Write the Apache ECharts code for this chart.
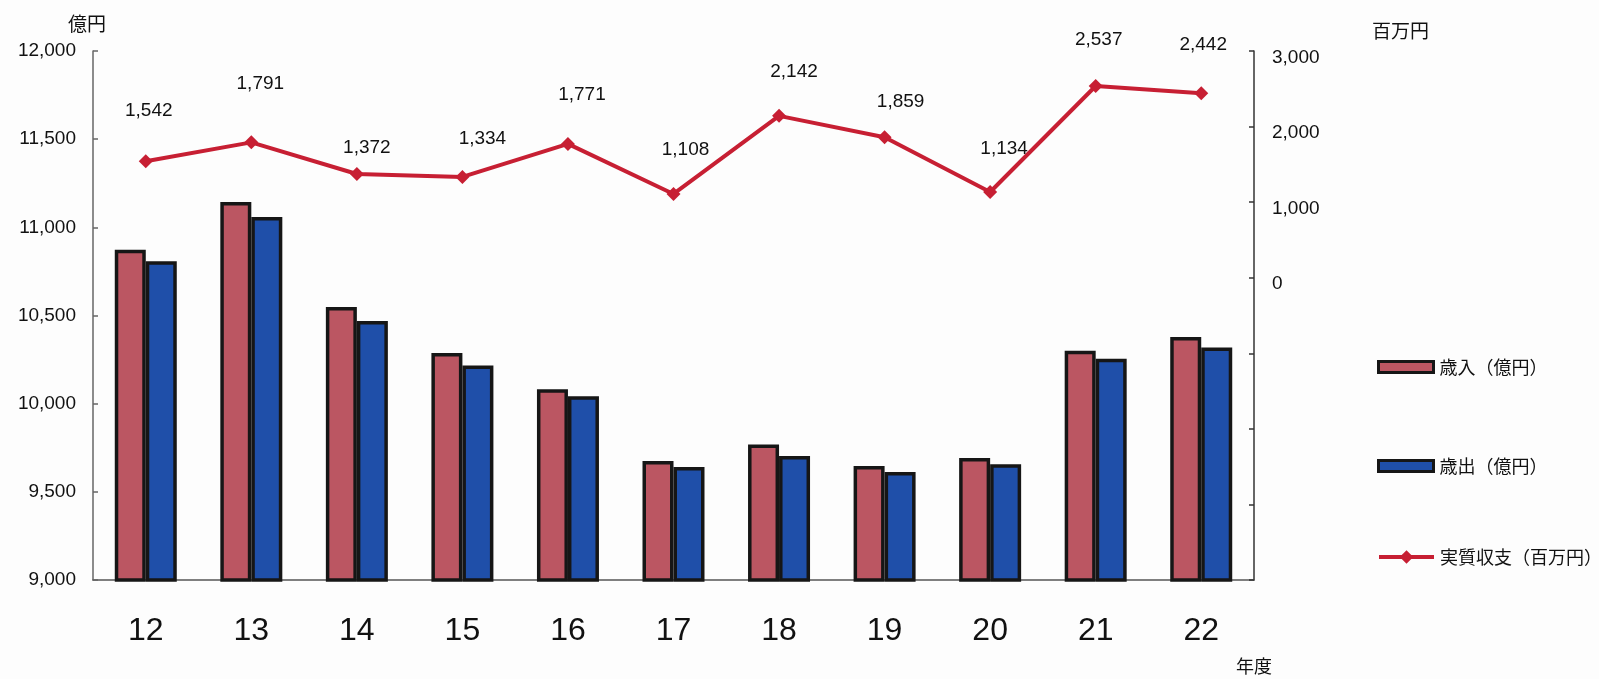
<!DOCTYPE html>
<html>
<head>
<meta charset="utf-8">
<script src="https://cdn.jsdelivr.net/npm/echarts@6/dist/echarts.min.js"></script>
<style>
  html, body { margin: 0; padding: 0; background: #fdfdfd; }
  #chart { width: 1599px; height: 679px; }
</style>
</head>
<body>
<div id="chart"></div>
<script>
// Fiscal years (平成)
const years = ['12', '13', '14', '15', '16', '17', '18', '19', '20', '21', '22'];
// 歳入 (億円)
const revenue = [10873, 11144, 10548, 10287, 10082, 9675, 9769, 9647, 9692, 10300, 10378];
// 歳出 (億円)
const expenditure = [10807, 11059, 10469, 10217, 10042, 9641, 9703, 9613, 9656, 10255, 10319];
// 実質収支 (百万円)
const balance = [1542, 1791, 1372, 1334, 1771, 1108, 2142, 1859, 1134, 2537, 2442];

// hand-placed value labels above each balance point [dx, dy]
const labelOffsets = [[3, -50], [9, -59], [10, -26], [20, -38], [14, -49], [12, -44],
                      [15, -44], [16, -35], [14, -43], [3, -46], [2, -48]];

const NUM_FONT = "'Liberation Sans', Arial, sans-serif";
const JP_FONT = "'Noto Sans CJK JP', 'Liberation Sans', sans-serif";
const RED_BAR = '#bb5662';
const BLUE_BAR = '#1f4fa9';
const LINE_RED = '#c71f33';
const EDGE = '#161616';

const fmt = v => v.toLocaleString('en-US');

const chart = echarts.init(document.getElementById('chart'), null, { renderer: 'canvas' });

const legendCommon = {
  orient: 'vertical',
  left: 1377,
  padding: 0,
  itemWidth: 55,
  itemHeight: 11,
  itemGap: 10,
  textStyle: { fontFamily: JP_FONT, fontSize: 18, color: '#111', padding: [0, 0, 0, 1] }
};

chart.setOption({
  backgroundColor: '#fdfdfd',
  animation: false,
  grid: { left: 93, right: 345, top: 51, bottom: 99 },
  legend: [
    Object.assign({}, legendCommon, {
      top: 358, data: ['歳入（億円）'], icon: 'rect',
      itemStyle: { borderColor: EDGE, borderWidth: 3 }
    }),
    Object.assign({}, legendCommon, {
      top: 457, data: ['歳出（億円）'], icon: 'rect',
      itemStyle: { borderColor: EDGE, borderWidth: 3 }
    }),
    Object.assign({}, legendCommon, {
      top: 548, data: ['実質収支（百万円）'],
      itemHeight: 17,
      lineStyle: { width: 4 }
    })
  ],
  graphic: [
    { type: 'text', left: 68, top: 14, style: { text: '億円', font: '19px ' + JP_FONT, fill: '#111' } },
    { type: 'text', left: 1372, top: 21, style: { text: '百万円', font: '19px ' + JP_FONT, fill: '#111' } },
    { type: 'text', left: 1236, top: 657, style: { text: '年度', font: '18px ' + JP_FONT, fill: '#111' } }
  ],
  xAxis: {
    type: 'category',
    data: years,
    axisLine: { onZero: false, lineStyle: { color: '#555', width: 1.5 } },
    axisTick: { inside: true, length: 9, lineStyle: { color: '#555', width: 1.5 } },
    axisLabel: {
      margin: 35,
      fontFamily: NUM_FONT,
      fontSize: 32,
      color: '#111'
    }
  },
  yAxis: [
    {
      type: 'value',
      min: 9000,
      max: 12000,
      interval: 500,
      splitLine: { show: false },
      axisLine: { show: true, lineStyle: { color: '#666', width: 1.5 } },
      axisTick: { show: true, inside: true, length: 5, lineStyle: { color: '#666', width: 1.5 } },
      axisLabel: { margin: 17, fontFamily: NUM_FONT, fontSize: 19, color: '#111', formatter: v => fmt(v) }
    },
    {
      type: 'value',
      position: 'right',
      min: -4000,
      max: 3000,
      interval: 1000,
      splitLine: { show: false },
      axisLine: { show: true, lineStyle: { color: '#333', width: 1.5 } },
      axisTick: { show: true, inside: true, length: 5, lineStyle: { color: '#333', width: 1.5 } },
      axisLabel: {
        margin: 18, fontFamily: NUM_FONT, fontSize: 19, color: '#111',
        verticalAlign: 'top',
        lineHeight: 13,
        formatter: v => (v >= 0 ? fmt(v) : '')
      }
    }
  ],
  series: [
    {
      name: '歳入（億円）',
      type: 'bar',
      yAxisIndex: 0,
      data: revenue,
      barWidth: 31,
      barGap: '0%',
      itemStyle: { color: RED_BAR, borderColor: EDGE, borderWidth: 3.5 }
    },
    {
      name: '歳出（億円）',
      type: 'bar',
      yAxisIndex: 0,
      data: expenditure,
      barWidth: 31,
      barGap: '0%',
      itemStyle: { color: BLUE_BAR, borderColor: EDGE, borderWidth: 3.5 }
    },
    {
      name: '実質収支（百万円）',
      type: 'line',
      yAxisIndex: 1,
      z: 5,
      symbol: 'diamond',
      symbolSize: 14,
      lineStyle: { color: LINE_RED, width: 4 },
      itemStyle: { color: LINE_RED },
      data: balance.map((v, i) => ({
        value: v,
        label: { offset: labelOffsets[i] }
      })),
      label: {
        show: true,
        position: 'inside',
        align: 'center',
        verticalAlign: 'middle',
        fontFamily: NUM_FONT,
        fontSize: 19,
        color: '#111',
        formatter: p => fmt(p.value)
      }
    }
  ]
});
</script>
</body>
</html>
